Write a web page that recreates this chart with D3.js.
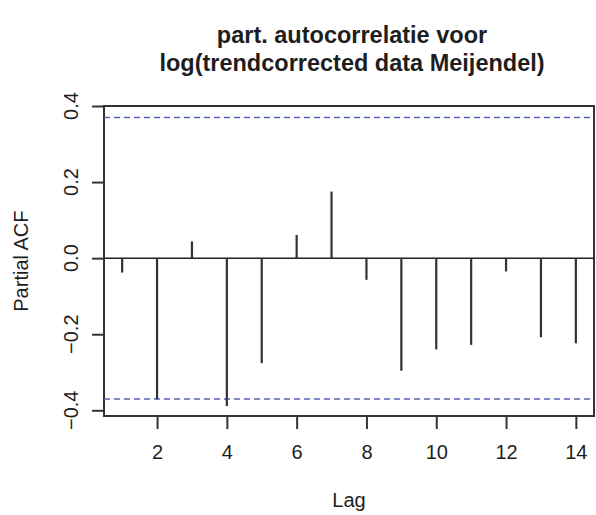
<!DOCTYPE html>
<html>
<head>
<meta charset="utf-8">
<script src="https://cdn.jsdelivr.net/npm/d3@7"></script>
<style>
  body { margin: 0; background: #fff; }
  text { font-family: "Liberation Sans", Arial, sans-serif; fill: #1e1e1e; }
</style>
</head>
<body>
<div class="canva"></div>
<script>
// pacf values
const lags = [1, 2, 3, 4, 5, 6, 7, 8, 9, 10, 11, 12, 13, 14];
const pacf = [-0.038, -0.371, 0.044, -0.389, -0.276, 0.061, 0.175, -0.057, -0.296, -0.240, -0.228, -0.035, -0.208, -0.224];
const clim = 0.37;
const xTicks = [2, 4, 6, 8, 10, 12, 14];
const yTicks = [-0.4, -0.2, 0.0, 0.2, 0.4];
const titleLines = ["part. autocorrelatie voor", "log(trendcorrected data Meijendel)"];

const WIDTH = 596, HEIGHT = 515;
const MARGIN = { TOP: 106, BOTTOM: 99, LEFT: 104, RIGHT: 2 };

const svg = d3.select(".canva").append("svg")
    .attr("width", WIDTH)
    .attr("height", HEIGHT);

const x = d3.scaleLinear().domain([0.48, 14.52]).range([MARGIN.LEFT, WIDTH - MARGIN.RIGHT]);
const y = d3.scaleLinear().domain([-0.415, 0.40]).range([HEIGHT - MARGIN.BOTTOM, MARGIN.TOP]);

// box
svg.append("rect")
    .attr("x", MARGIN.LEFT).attr("y", MARGIN.TOP)
    .attr("width", WIDTH - MARGIN.LEFT - MARGIN.RIGHT)
    .attr("height", HEIGHT - MARGIN.TOP - MARGIN.BOTTOM)
    .attr("fill", "none").attr("stroke", "#333").attr("stroke-width", 2);

// axes
const xAxis = svg.append("g")
    .attr("transform", `translate(0, ${HEIGHT - MARGIN.BOTTOM})`)
    .call(d3.axisBottom(x).tickValues(xTicks).tickSize(13).tickPadding(16).tickFormat(d3.format("d")));
xAxis.select(".domain").remove();
xAxis.selectAll("line").attr("stroke", "#333").attr("stroke-width", 2);
xAxis.selectAll("text").attr("font-size", 20).attr("fill", "#1e1e1e");

const yAxis = svg.append("g")
    .attr("transform", `translate(${MARGIN.LEFT}, 0)`)
    .call(d3.axisLeft(y).tickValues(yTicks).tickSize(12).tickFormat(""));
yAxis.select(".domain").remove();
yAxis.selectAll("line").attr("stroke", "#333").attr("stroke-width", 2);

// rotated y tick labels, R style
svg.append("g").selectAll("text").data(yTicks)
    .enter().append("text")
    .attr("transform", d => `translate(78, ${y(d)}) rotate(-90)`)
    .attr("text-anchor", "middle")
    .attr("font-size", 20)
    .text(d => d3.format(".1f")(d).replace("-", "\u2212"));

// zero line
svg.append("line")
    .attr("x1", MARGIN.LEFT).attr("x2", WIDTH - MARGIN.RIGHT)
    .attr("y1", y(0)).attr("y2", y(0))
    .attr("stroke", "#222").attr("stroke-width", 1.5);

// confidence limits
svg.selectAll("line.clim").data([clim, -clim])
    .enter().append("line")
    .attr("class", "clim")
    .attr("x1", MARGIN.LEFT).attr("x2", WIDTH - MARGIN.RIGHT)
    .attr("y1", d => y(d)).attr("y2", d => y(d))
    .attr("stroke", "#5a62b8").attr("stroke-width", 1.5)
    .attr("stroke-dasharray", "6,4");

// spikes
svg.selectAll("line.spike").data(lags)
    .enter().append("line")
    .attr("class", "spike")
    .attr("x1", d => x(d)).attr("x2", d => x(d))
    .attr("y1", y(0)).attr("y2", (d, i) => y(pacf[i]))
    .attr("stroke", "#333").attr("stroke-width", 2.2);

// title
svg.append("g").selectAll("text").data(titleLines)
    .enter().append("text")
    .attr("x", (MARGIN.LEFT + WIDTH - MARGIN.RIGHT) / 2 + 3)
    .attr("y", (d, i) => 43 + i * 28)
    .attr("text-anchor", "middle")
    .attr("font-size", 23.5).attr("font-weight", "bold")
    .text(d => d);

// axis labels
svg.append("text")
    .attr("x", (MARGIN.LEFT + WIDTH - MARGIN.RIGHT) / 2)
    .attr("y", 507)
    .attr("text-anchor", "middle")
    .attr("font-size", 20)
    .text("Lag");

svg.append("text")
    .attr("transform", `translate(28, ${y(0) + 3}) rotate(-90)`)
    .attr("text-anchor", "middle")
    .attr("font-size", 20)
    .text("Partial ACF");
</script>
</body>
</html>
